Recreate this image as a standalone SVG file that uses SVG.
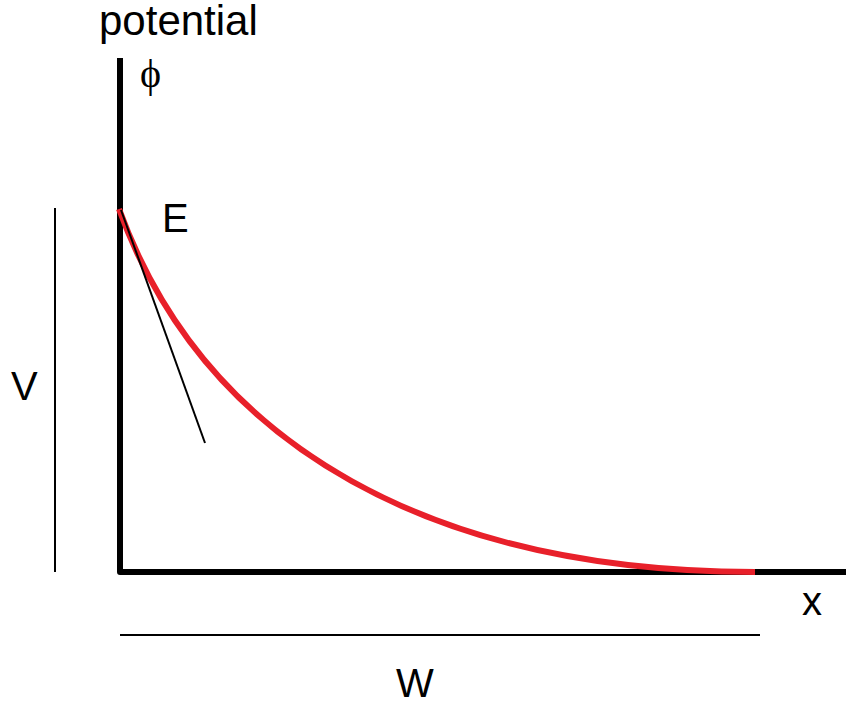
<svg xmlns="http://www.w3.org/2000/svg" width="846" height="702" viewBox="0 0 846 702">
<style>
text{font-family:"Liberation Sans",Arial,sans-serif;font-size:40px;fill:#000}
.ax{stroke:#000;stroke-width:6;fill:none;stroke-linejoin:round}
.thin{stroke:#000;stroke-width:2;fill:none}
</style>
<rect width="846" height="702" fill="#fff"/>
<g id="axes">
<path class="ax" d="M120,58 V572 H846"/>
</g>
<g id="connectors">
<path id="curve" d="M119,209 C207,451 440,572 755,572" stroke="#e8202a" stroke-width="6" fill="none"/>
<line id="tangent" x1="121" y1="210" x2="205" y2="443" class="thin"/>
<line id="vline" x1="55" y1="208" x2="55" y2="572" class="thin"/>
<line id="wline" x1="120" y1="635" x2="760" y2="635" class="thin"/>
</g>
<g id="labels">
<text x="99" y="35" style="font-size:42px">potential</text>
<text x="140" y="87" style="font-family:'Liberation Serif',serif;font-size:40px">ϕ</text>
<text x="162" y="232">E</text>
<text x="11" y="400">V</text>
<text x="802" y="615">x</text>
<text x="396" y="697">W</text>
</g>
</svg>
